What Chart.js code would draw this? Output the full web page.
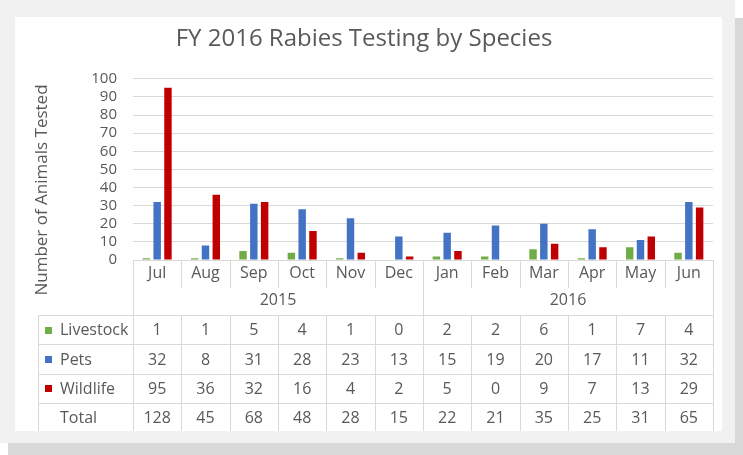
<!DOCTYPE html>
<html>
<head>
<meta charset="utf-8">
<script src="https://cdn.jsdelivr.net/npm/chart.js@4/dist/chart.umd.min.js"></script>
<style>
  html, body { margin: 0; padding: 0; background: #fff; }
  #wrap { position: relative; width: 743px; height: 455px; overflow: hidden; }
  .shadow { position: absolute; left: 8px; top: 18px; width: 735px; height: 437px; background: #d8d8d8; }
  .frame { position: absolute; left: 0; top: 0; width: 735px; height: 443px; background: #f1f1f1; }
  .card { position: absolute; left: 15px; top: 17px; width: 707px; height: 414px; background: #fff; }
  canvas { position: absolute; left: 0; top: 0; }
</style>
</head>
<body>
<div id="wrap">
  <div class="shadow"></div>
  <div class="frame"></div>
  <div class="card"></div>
  <canvas id="rabiesChart" width="743" height="455"></canvas>
</div>
<script>
let months = ['Jul','Aug','Sep','Oct','Nov','Dec','Jan','Feb','Mar','Apr','May','Jun'];
let years = [{label:'2015', from:0, to:5}, {label:'2016', from:6, to:11}];
let livestock = [1, 1, 5, 4, 1, 0, 2, 2, 6, 1, 7, 4];
let pets = [32, 8, 31, 28, 23, 13, 15, 19, 20, 17, 11, 32];
let wildlife = [95, 36, 32, 16, 4, 2, 5, 0, 9, 7, 13, 29];
let yTicks = [0, 10, 20, 30, 40, 50, 60, 70, 80, 90, 100];

let textColor = '#595959';
let lineColor = '#d9d9d9';
let fontFamily = '"Open Sans", "Liberation Sans", sans-serif';

// data table under the axis, drawn against the x scale
let dataTablePlugin = {
    id: 'dataTable',
    afterDraw(chart) {
        let ctx = chart.ctx;
        let x = chart.scales.x;
        let area = chart.chartArea;
        let colW = (x.right - x.left) / months.length;
        let axisY = area.bottom;
        let monthBottom = axisY + 28;
        let tableTop = axisY + 55;
        let rowH = 29.3;
        let tableLeft = 38;
        let tableBottom = 431;

        ctx.save();
        ctx.strokeStyle = lineColor;
        ctx.lineWidth = 1;

        // month separators
        ctx.beginPath();
        for (let i = 1; i < months.length; i++) {
            let sx = Math.round(x.left + i * colW) + 0.5;
            ctx.moveTo(sx, axisY);
            ctx.lineTo(sx, monthBottom);
        }
        // year separators
        [0, 6, 12].forEach(i => {
            let sx = Math.round(x.left + i * colW) + 0.5;
            ctx.moveTo(sx, axisY);
            ctx.lineTo(sx, tableTop);
        });
        // table verticals
        for (let i = 0; i <= months.length; i++) {
            let sx = Math.round(x.left + i * colW) + 0.5;
            ctx.moveTo(sx, tableTop);
            ctx.lineTo(sx, tableBottom);
        }
        ctx.moveTo(tableLeft + 0.5, tableTop);
        ctx.lineTo(tableLeft + 0.5, tableBottom);
        // table horizontals
        for (let r = 0; r < 4; r++) {
            let sy = Math.round(tableTop + r * rowH) + 0.5;
            ctx.moveTo(tableLeft, sy);
            ctx.lineTo(x.right + 0.5, sy);
        }
        ctx.stroke();

        ctx.fillStyle = textColor;
        ctx.textAlign = 'center';
        ctx.textBaseline = 'middle';

        ctx.font = '16px ' + fontFamily;
        months.forEach((m, i) => {
            ctx.fillText(m, x.getPixelForValue(i), axisY + 13);
        });
        years.forEach(y => {
            let cx = (x.left + y.from * colW + x.left + (y.to + 1) * colW) / 2;
            ctx.fillText(y.label, cx, axisY + 40);
        });

        let rows = [
            {name: 'Livestock', color: '#70ad47', values: livestock},
            {name: 'Pets', color: '#4472c4', values: pets},
            {name: 'Wildlife', color: '#c00000', values: wildlife},
            {name: 'Total', color: null, values: months.map((m, i) => livestock[i] + pets[i] + wildlife[i])}
        ];
        rows.forEach((row, r) => {
            let cy = tableTop + r * rowH + rowH / 2 + 1;
            ctx.textAlign = 'center';
            ctx.fillStyle = textColor;
            row.values.forEach((v, i) => {
                ctx.fillText(String(v), x.getPixelForValue(i), cy);
            });
            ctx.textAlign = 'left';
            ctx.fillText(row.name, 60, cy);
            if (row.color) {
                ctx.fillStyle = row.color;
                ctx.fillRect(45, Math.round(cy - 4), 7, 7);
            }
        });

        // y axis title
        ctx.translate(42, 190);
        ctx.rotate(-Math.PI / 2);
        ctx.textAlign = 'center';
        ctx.fillStyle = textColor;
        ctx.font = '17px ' + fontFamily;
        ctx.fillText('Number of Animals Tested', 0, 0);
        ctx.restore();
    }
};

let rabiesCtx = document.getElementById('rabiesChart').getContext('2d');

let rabiesChart = new Chart(rabiesCtx, {
    type: 'bar',
    data: {
        labels: months,
        datasets: [{
            label: 'Livestock',
            data: livestock,
            backgroundColor: '#70ad47'
        }, {
            label: 'Pets',
            data: pets,
            backgroundColor: '#4472c4'
        }, {
            label: 'Wildlife',
            data: wildlife,
            backgroundColor: '#c00000'
        }]
    },
    options: {
        responsive: false,
        animation: false,
        layout: {
            padding: {left: 15, right: 30, top: 0, bottom: 24}
        },
        datasets: {
            bar: {
                categoryPercentage: 0.67,
                barPercentage: 0.69
            }
        },
        plugins: {
            legend: {display: false},
            tooltip: {enabled: false},
            title: {
                display: true,
                text: 'FY 2016 Rabies Testing by Species',
                color: textColor,
                font: {family: fontFamily, size: 24, weight: 'normal'},
                padding: {top: 25, bottom: 25}
            }
        },
        scales: {
            x: {
                grid: {display: false, drawTicks: false},
                border: {display: true, color: lineColor},
                ticks: {display: false},
                afterFit(scale) { scale.height = 171; }
            },
            y: {
                min: 0,
                max: 100,
                afterBuildTicks(scale) { scale.ticks = yTicks.map(v => ({value: v})); },
                grid: {color: lineColor, drawTicks: false},
                border: {display: false},
                ticks: {
                    color: textColor,
                    padding: 16,
                    autoSkip: false,
                    font: {family: fontFamily, size: 15}
                },
                afterFit(scale) { scale.width = 118; }
            }
        }
    },
    plugins: [dataTablePlugin]
});
</script>
</body>
</html>
